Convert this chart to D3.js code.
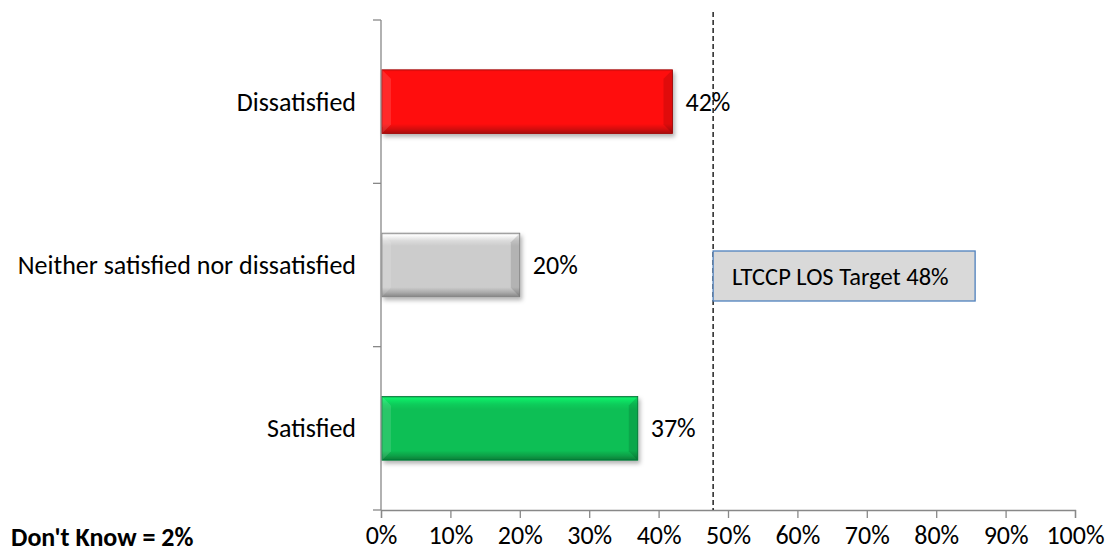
<!DOCTYPE html>
<html>
<head>
<meta charset="utf-8">
<script src="https://cdn.jsdelivr.net/npm/d3@7"></script>
<style>
  body { margin: 0; background: #fff; }
  text { font-family: Carlito, Calibri, Lato, "Open Sans", sans-serif; }
</style>
</head>
<body>
<div id="chart"></div>
<script>
// chart data
var categories = ["Dissatisfied", "Neither satisfied nor dissatisfied", "Satisfied"];
var values = [42, 20, 37];
var barColors = ["#ff0a0a", "#cccccc", "#0abf55"];
var xTicks = [0, 10, 20, 30, 40, 50, 60, 70, 80, 90, 100];
var targetValue = 48;
var targetLabel = "LTCCP LOS Target 48%";
var noteLabel = "Don't Know = 2%";

var svgWidth = 1106;
var svgHeight = 555;
var margin = { top: 20, right: 31, bottom: 45, left: 381 };
var width = svgWidth - margin.left - margin.right;
var height = svgHeight - margin.top - margin.bottom;
var fontSize = 26;

var svg = d3.select("#chart")
  .append("svg")
  .attr("width", svgWidth)
  .attr("height", svgHeight);

var defs = svg.append("defs");

var shadow = defs.append("filter")
  .attr("id", "shadow")
  .attr("x", "-10%").attr("y", "-20%")
  .attr("width", "130%").attr("height", "160%");
shadow.append("feDropShadow")
  .attr("dx", 2).attr("dy", 3)
  .attr("stdDeviation", 2)
  .attr("flood-color", "#000")
  .attr("flood-opacity", 0.3);

// vertical bevel gradient per bar colour
barColors.forEach(function(c, i) {
  var base = d3.color(c);
  var g = defs.append("linearGradient")
    .attr("id", "bevel" + i)
    .attr("x1", 0).attr("y1", 0).attr("x2", 0).attr("y2", 1);
  g.append("stop").attr("offset", "0%").attr("stop-color", base.darker(0.3));
  g.append("stop").attr("offset", "3%").attr("stop-color", base.brighter(0.6));
  g.append("stop").attr("offset", "12%").attr("stop-color", base.brighter(0.2));
  g.append("stop").attr("offset", "20%").attr("stop-color", base);
  g.append("stop").attr("offset", "85%").attr("stop-color", base);
  g.append("stop").attr("offset", "93%").attr("stop-color", base.darker(0.5));
  g.append("stop").attr("offset", "100%").attr("stop-color", base.darker(1.2));
});

var chartGroup = svg.append("g")
  .attr("transform", `translate(${margin.left}, ${margin.top})`);

var xScale = d3.scaleLinear()
  .domain([0, 100])
  .range([0, width]);

var yScale = d3.scaleBand()
  .domain(categories)
  .range([0, height])
  .paddingInner(0.61)
  .paddingOuter(0.305);

var yBands = d3.scaleBand()
  .domain(categories)
  .range([0, height]);

// x axis
var bottomAxis = d3.axisBottom(xScale)
  .tickValues(xTicks)
  .tickFormat(d => d + "%")
  .tickSize(8)
  .tickPadding(8);

var xAxis = chartGroup.append("g")
  .attr("transform", `translate(0, ${height})`)
  .call(bottomAxis);
xAxis.select(".domain").attr("stroke", "#888").attr("stroke-width", 1.3);
xAxis.selectAll(".tick line").attr("stroke", "#888").attr("stroke-width", 1.3);
xAxis.selectAll("text")
  .attr("font-size", fontSize)
  .attr("fill", "#000")
  .style("font-family", "Carlito, Calibri, Lato, sans-serif");

// y axis: ticks between categories
var yTickPos = [0].concat(categories.map(c => yBands(c) + yBands.bandwidth()));
chartGroup.append("line")
  .attr("x1", 0).attr("x2", 0)
  .attr("y1", 0).attr("y2", height)
  .attr("stroke", "#888").attr("stroke-width", 1.3);
chartGroup.selectAll(".ytick")
  .data(yTickPos)
  .enter()
  .append("line")
  .attr("class", "ytick")
  .attr("x1", -8).attr("x2", 0)
  .attr("y1", d => d).attr("y2", d => d)
  .attr("stroke", "#888").attr("stroke-width", 1.3);

chartGroup.selectAll(".ylabel")
  .data(categories)
  .enter()
  .append("text")
  .attr("class", "ylabel")
  .attr("x", -25)
  .attr("y", d => yBands(d) + yBands.bandwidth() / 2)
  .attr("dy", "0.35em")
  .attr("text-anchor", "end")
  .attr("font-size", fontSize)
  .text(d => d);

// bars
var bars = chartGroup.selectAll(".bar")
  .data(categories)
  .enter()
  .append("g")
  .attr("class", "bar");

bars.append("rect")
  .attr("x", 1)
  .attr("y", d => yScale(d))
  .attr("width", (d, i) => xScale(values[i]) - 1)
  .attr("height", yScale.bandwidth())
  .attr("fill", (d, i) => `url(#bevel${i})`)
  .attr("stroke", (d, i) => d3.color(barColors[i]).darker(1.3))
  .attr("stroke-width", 0.8)
  .attr("filter", "url(#shadow)");

// side bevels (left light, right dark)
bars.append("path")
  .attr("d", function(d, i) {
    var x0 = 1, y0 = yScale(d), y1 = y0 + yScale.bandwidth(), b = 9;
    return `M${x0},${y0} L${x0 + b},${y0 + b} L${x0 + b},${y1 - b} L${x0},${y1} Z`;
  })
  .attr("fill", "#fff")
  .attr("opacity", 0.12);
bars.append("path")
  .attr("d", function(d, i) {
    var x1 = xScale(values[i]), y0 = yScale(d), y1 = y0 + yScale.bandwidth(), b = 9;
    return `M${x1},${y0} L${x1 - b},${y0 + b} L${x1 - b},${y1 - b} L${x1},${y1} Z`;
  })
  .attr("fill", "#000")
  .attr("opacity", 0.12);

// value labels
chartGroup.selectAll(".vlabel")
  .data(categories)
  .enter()
  .append("text")
  .attr("class", "vlabel")
  .attr("x", (d, i) => xScale(values[i]) + 13)
  .attr("y", d => yScale(d) + yScale.bandwidth() / 2)
  .attr("dy", "0.35em")
  .attr("font-size", fontSize)
  .text((d, i) => values[i] + "%");

// target line
chartGroup.append("line")
  .attr("x1", xScale(targetValue) - 1).attr("x2", xScale(targetValue) - 1)
  .attr("y1", -8).attr("y2", height)
  .attr("stroke", "#000")
  .attr("stroke-width", 1.3)
  .attr("stroke-dasharray", "5,3");

// target box
var boxX = xScale(targetValue) - 1;
var boxY = 231;
chartGroup.append("rect")
  .attr("x", boxX)
  .attr("y", boxY)
  .attr("width", 262)
  .attr("height", 50)
  .attr("fill", "#d9d9d9")
  .attr("stroke", "#4f81bd")
  .attr("stroke-width", 1.3);
chartGroup.append("text")
  .attr("x", boxX + 19)
  .attr("y", boxY + 25)
  .attr("dy", "0.35em")
  .attr("font-size", 24.5)
  .text(targetLabel);

// note
svg.append("text")
  .attr("x", 11)
  .attr("y", 546)
  .attr("font-size", 26)
  .attr("font-weight", "bold")
  .text(noteLabel);
</script>
</body>
</html>
